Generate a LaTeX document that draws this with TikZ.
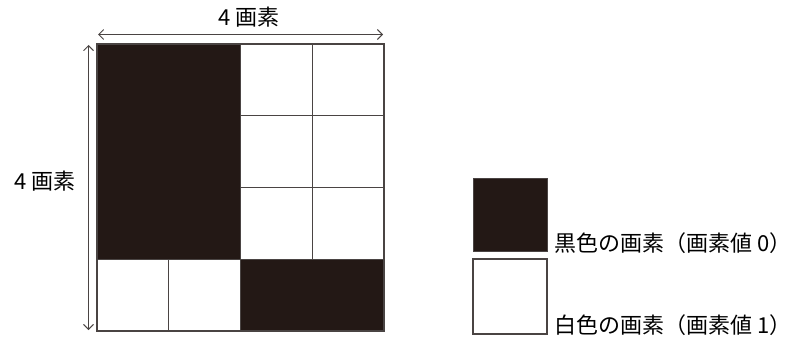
\documentclass[tikz,border=0pt]{standalone}
\usepackage{fontspec}
\setmainfont{Noto Sans CJK JP}
\usetikzlibrary{arrows.meta}
\definecolor{ink}{HTML}{231815}
\definecolor{edge}{HTML}{4A4443}
\tikzset{
  cell/.style={draw=edge, line width=1.1pt},
  dim/.style={draw=edge, line width=0.9pt, {Straight Barb[length=5pt,width=10pt]}-{Straight Barb[length=5pt,width=10pt]}},
  lbl/.style={font=\fontsize{22}{26}\selectfont, text=black, inner sep=0pt}
}
\begin{document}
\begin{tikzpicture}[x=1pt,y=-1pt]
\useasboundingbox (0,0) rectangle (790,337);
\def\cs{71.75}
% black regions
\fill[ink] (97,44) rectangle (240.5,259.25);
\fill[ink] (240.5,259.25) rectangle (384,331);
% white cells borders
\foreach \c/\r in {2/0,3/0,2/1,3/1,2/2,3/2,0/3,1/3}{
  \draw[cell] ({97+\c*\cs},{44+\r*\cs}) rectangle ({97+(\c+1)*\cs},{44+(\r+1)*\cs});
}
\draw[cell] (97,44) rectangle (384,331);
% dimension arrows
\coordinate (tl) at (98,34.5);
\coordinate (tr) at (383,34.5);
\draw[dim] (tl) -- (tr);
\node[lbl] (toplbl) at (249,17) {4 画素};
\coordinate (lt) at (88.5,45);
\coordinate (lb) at (88.5,330);
\draw[dim] (lt) -- (lb);
\node[lbl, anchor=east] (leftlbl) at (76,181) {4 画素};
% legend
\fill[ink, draw=edge, line width=0.8pt] (473,178) rectangle (547,251);
\draw[draw=edge, line width=1.1pt] (473,259) rectangle (547,334);
\node[lbl, anchor=west] (blacklbl) at (554,243) {黒色の画素（画素値 0）};
\node[lbl, anchor=west] (whitelbl) at (554,325) {白色の画素（画素値 1）};
\end{tikzpicture}
\end{document}
